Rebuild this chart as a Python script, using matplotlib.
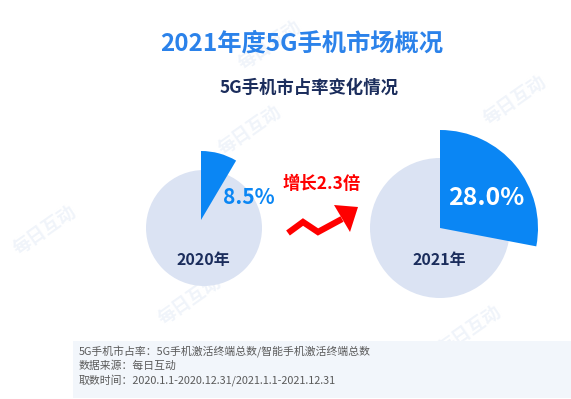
import matplotlib
matplotlib.use("Agg")
import matplotlib.pyplot as plt
from matplotlib.patches import Wedge, Circle, Rectangle, Polygon

plt.rcParams['font.family'] = ['Noto Sans CJK SC', 'DejaVu Sans']

# data
title = "2021年度5G手机市场概况"
subtitle = "5G手机市占率变化情况"
years = ["2020年", "2021年"]
shares = [8.5, 28.0]
growth = "增长2.3倍"
notes = ["5G手机市占率：5G手机激活终端总数/智能手机激活终端总数",
         "数据来源：每日互动",
         "取数时间：2020.1.1-2020.12.31/2021.1.1-2021.12.31"]

W, H = 571, 399
fig = plt.figure(figsize=(W / 100, H / 100), dpi=100)
ax = fig.add_axes([0, 0, 1, 1])
ax.set_xlim(0, W)
ax.set_ylim(0, H)
ax.axis("off")

BLUE = "#0a86f4"
LIGHT = "#dbe3f3"
NAVY = "#1b2d5c"


def yy(y):
    # image row -> axes y
    return H - y


# faint watermarks
for (x, y) in [(45, 230), (250, 130), (190, 300), (470, 330), (515, 100), (270, 45)]:
    ax.text(x, yy(y), "每日互动", fontsize=13, color="#f0f4fa", rotation=35,
            ha="center", va="center", fontweight="bold", zorder=0)

ax.text(302, yy(44), title, fontsize=17.5, fontweight="bold", color="#2b82ea",
        ha="center", va="center")
ax.text(309, yy(88), subtitle, fontsize=12.5, fontweight="bold", color=NAVY,
        ha="center", va="center")

# pies: background circle + share wedge
centers = [(204, 228), (440, 228)]
base_r = [58, 70]
wedge_r = [69, 98]
wedge_off = [(-3, -8), (0, 0)]
label_pos = [(249, 198), (486, 198)]
label_col = [BLUE, "white"]
label_size = [15, 18]

for i, share in enumerate(shares):
    cx, cy = centers[i]
    ax.add_patch(Circle((cx, yy(cy)), base_r[i], color=LIGHT, lw=0, zorder=1))
    span = share / 100 * 360
    ox, oy = wedge_off[i]
    ax.add_patch(Wedge((cx + ox, yy(cy + oy)), wedge_r[i], 90 - span, 90,
                       color=BLUE, lw=0, zorder=2))
    lx, ly = label_pos[i]
    ax.text(lx, yy(ly), f"{share:.1f}%", fontsize=label_size[i], fontweight="bold",
            color=label_col[i], ha="center", va="center", zorder=3)
    ax.text(cx - 1, yy(260), years[i], fontsize=11.5, fontweight="bold", color=NAVY,
            ha="center", va="center", zorder=3)

ax.text(322, yy(184), growth, fontsize=12.5, fontweight="bold", color="#ff0000",
        ha="center", va="center")

# red zigzag arrow
xs = [288, 303, 318, 342]
ys = [233, 222, 232, 219]
ax.plot(xs, [yy(v) for v in ys], color="#ff0000", lw=4.5, solid_joinstyle="miter",
        solid_capstyle="butt", zorder=3)
ax.add_patch(Polygon([(358, yy(207)), (334, yy(205)), (350, yy(232))],
                     closed=True, color="#ff0000", lw=0, zorder=3))

# notes box
ax.add_patch(Rectangle((73, 1), W - 73, 57, color="#f2f6fb", lw=0, zorder=1))
for k, line in enumerate(notes):
    ax.text(79, yy(352 + k * 14), line, fontsize=7.8, color="#5a5a5a",
            ha="left", va="center", zorder=2)

fig.savefig("out.png", dpi=100)
